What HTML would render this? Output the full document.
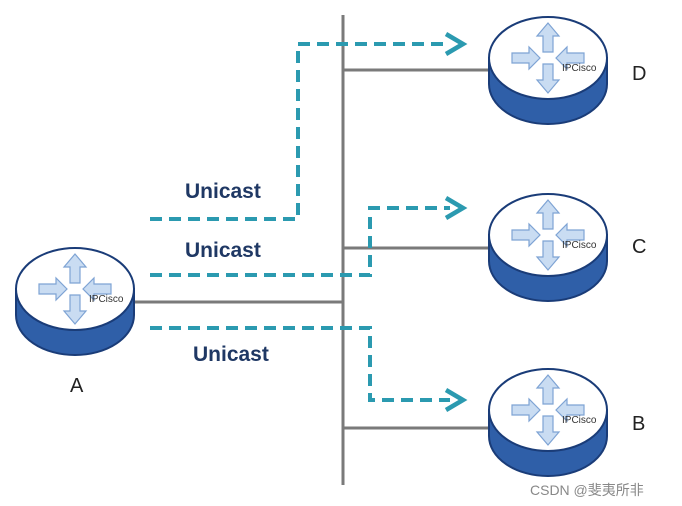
<!DOCTYPE html>
<html><head><meta charset="utf-8"><style>body{margin:0;background:#fff}svg{display:block}</style></head><body>
<svg width="682" height="506" viewBox="0 0 682 506" xmlns="http://www.w3.org/2000/svg" font-family="Liberation Sans, sans-serif">
<defs>
<g id="r">
  <path d="M-59,0 L-59,26 A59,40 0 0 0 59,26 L59,0 Z" fill="#2f5fa8" stroke="#1a3c78" stroke-width="2"/>
  <ellipse cx="0" cy="0" rx="59" ry="41" fill="#fff" stroke="#1a3c78" stroke-width="2"/>
  <g fill="#c9dcf2" stroke="#7ea3d4" stroke-width="1.2">
    <polygon points="0,-35 -11,-22 -5,-22 -5,-6 5,-6 5,-22 11,-22"/>
    <polygon points="0,35 -11,22 -5,22 -5,6 5,6 5,22 11,22"/>
    <polygon points="-8,0 -19,-11 -19,-5 -36,-5 -36,5 -19,5 -19,11"/>
    <polygon points="8,0 19,-11 19,-5 36,-5 36,5 19,5 19,11"/>
  </g>
  <text x="14" y="13" font-size="10" fill="#333">IPCisco</text>
</g>
</defs>
<g stroke="#7a7a7a" stroke-width="3" fill="none">
  <line x1="343" y1="15" x2="343" y2="485"/>
  <line x1="343" y1="70" x2="492" y2="70"/>
  <line x1="343" y1="248" x2="492" y2="248"/>
  <line x1="343" y1="428" x2="492" y2="428"/>
  <line x1="134" y1="302" x2="343" y2="302"/>
</g>
<g stroke="#2b9ab0" stroke-width="4" fill="none" stroke-dasharray="12,7">
  <path d="M150,219 H298 V44 H450"/>
  <path d="M150,275 H370 V208 H450"/>
  <path d="M150,328 H370 V400 H450"/>
</g>
<g fill="none" stroke="#2b9ab0" stroke-width="4.5">
  <path d="M446,34 L463,44 L446,54"/>
  <path d="M446,198 L463,208 L446,218"/>
  <path d="M446,390 L463,400 L446,410"/>
</g>
<use href="#r" x="548" y="58"/>
<use href="#r" x="548" y="235"/>
<use href="#r" x="548" y="410"/>
<use href="#r" x="75" y="289"/>
<g font-size="21" fill="#1f3864" font-weight="bold">
  <text x="185" y="198">Unicast</text>
  <text x="185" y="257">Unicast</text>
  <text x="193" y="361">Unicast</text>
</g>
<g font-size="20" fill="#222">
  <text x="632" y="80">D</text>
  <text x="632" y="253">C</text>
  <text x="632" y="430">B</text>
  <text x="70" y="392">A</text>
</g>
<text x="530" y="495" font-size="14" fill="#888" font-family="Liberation Sans, Noto Sans CJK SC, sans-serif">CSDN @斐夷所非</text>
</svg>
</body></html>
